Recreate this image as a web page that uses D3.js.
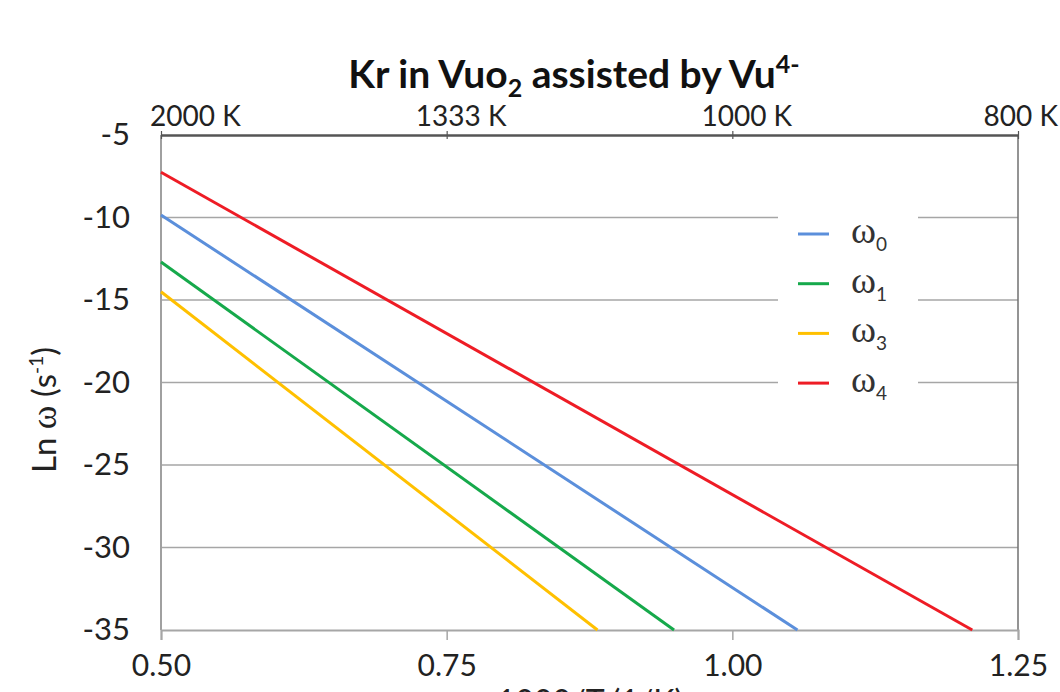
<!DOCTYPE html>
<html>
<head>
<meta charset="utf-8">
<script src="https://cdn.jsdelivr.net/npm/d3@7"></script>
<style>
html,body{margin:0;padding:0;background:#fff;}
svg{display:block;}
</style>
</head>
<body>
<svg id="chart" width="1060" height="692"></svg>
<script>
// ---- data ----
const seriesKeys = ["ω0", "ω1", "ω3", "ω4"];
const seriesSubs = ["0", "1", "3", "4"];
const seriesColors = ["#5b8fdb", "#16a94b", "#ffc000", "#ee1c25"];
const xStart = [0.5, 0.5, 0.5, 0.5];
const yStart = [-9.85, -12.7, -14.5, -7.26];
const xEnd = [1.057, 0.949, 0.882, 1.21];
const yEnd = [-35, -35, -35, -35];
const xTicks = [0.50, 0.75, 1.00, 1.25];
const yTicks = [-5, -10, -15, -20, -25, -30, -35];
const topTicks = [0.50, 0.75, 1.00, 1.25];
const topLabels = ["2000 K", "1333 K", "1000 K", "800 K"];

// ---- layout ----
const W = 1060, H = 692;
const L = 161, R = 1018, T = 135, B = 630;
const font = "Lato, 'Open Sans', sans-serif";
const svg = d3.select("#chart");
svg.append("rect").attr("width", W).attr("height", H).attr("fill", "#fff");

const x = d3.scaleLinear().domain([0.5, 1.25]).range([L, R]);
const y = d3.scaleLinear().domain([-35, -5]).range([B, T]);

// gridlines
svg.append("g").selectAll("line").data(yTicks.filter(v => v > -35 && v < -5)).join("line")
  .attr("x1", L).attr("x2", R).attr("y1", d => y(d)).attr("y2", d => y(d))
  .attr("stroke", "#a6a6a6").attr("stroke-width", 1.5);

// left & right borders
svg.append("line").attr("x1", L).attr("x2", L).attr("y1", T).attr("y2", B)
  .attr("stroke", "#a0a0a0").attr("stroke-width", 2);
svg.append("line").attr("x1", R).attr("x2", R).attr("y1", T).attr("y2", B)
  .attr("stroke", "#707070").attr("stroke-width", 1.5);

// bottom axis
const xAxis = d3.axisBottom(x).tickValues(xTicks).tickFormat(d3.format(".2f")).tickSize(10).tickPadding(15);
const gx = svg.append("g").attr("transform", `translate(0,${B})`).call(xAxis);
gx.select(".domain").attr("stroke", "#a6a6a6").attr("stroke-width", 2);
gx.selectAll(".tick line").attr("stroke", "#a6a6a6").attr("stroke-width", 1.5);
gx.selectAll(".tick text").attr("font-family", font).attr("font-size", 30).attr("fill", "#222");

// left axis (labels only)
const yAxis = d3.axisLeft(y).tickValues(yTicks).tickFormat(d => String(d)).tickSize(0).tickPadding(31);
const gy = svg.append("g").attr("transform", `translate(${L},0)`).call(yAxis);
gy.select(".domain").remove();
gy.selectAll(".tick text").attr("font-family", font).attr("font-size", 31).attr("fill", "#222");

// top axis
const topAxis = d3.axisTop(x).tickValues(topTicks).tickFormat((d, i) => topLabels[i]).tickSizeInner(4).tickSizeOuter(0).tickPadding(5);
const gt = svg.append("g").attr("transform", `translate(0,${T})`).call(topAxis);
gt.select(".domain").attr("stroke", "#555").attr("stroke-width", 2.5);
gt.selectAll(".tick line").attr("stroke", "#555").attr("stroke-width", 1.2).attr("y2", 4).attr("y1", -4);
gt.selectAll(".tick text").attr("font-family", font).attr("font-size", 28).attr("fill", "#222");
// shift labels slightly right, clamped to stay within the view
gt.selectAll(".tick text").each(function () {
  const t = d3.select(this);
  const g = d3.select(this.parentNode);
  const tx = +g.attr("transform").match(/translate\(([-\d.]+)/)[1];
  const w = this.getComputedTextLength();
  let cx = tx + 14;
  cx = Math.max(cx, 150 + w / 2);
  cx = Math.min(cx, 1058 - w / 2);
  t.attr("x", cx - tx);
});

// legend background
const lg = svg.append("g");
lg.append("rect").attr("x", 778).attr("y", 205).attr("width", 140).attr("height", 205).attr("fill", "#fff");

// series lines
const line = d3.line().x(d => x(d[0])).y(d => y(d[1]));
svg.append("g").selectAll("path").data(seriesKeys.map((k, i) => ({
  key: k, color: seriesColors[i],
  pts: [[xStart[i], yStart[i]], [xEnd[i], yEnd[i]]]
}))).join("path")
  .attr("d", d => line(d.pts))
  .attr("fill", "none").attr("stroke", d => d.color).attr("stroke-width", 3);

// legend entries
seriesKeys.forEach((k, i) => {
  const yy = 234 + i * 49.7;
  lg.append("line").attr("x1", 798).attr("x2", 829).attr("y1", yy).attr("y2", yy)
    .attr("stroke", seriesColors[i]).attr("stroke-width", 3);
  const t = lg.append("text").attr("x", 851).attr("y", yy + 9)
    .attr("font-family", "'Liberation Serif', 'DejaVu Serif', serif").attr("font-size", 38).attr("fill", "#333");
  t.append("tspan").text("ω");
  t.append("tspan").attr("font-family", font).attr("font-size", 19).attr("dy", 8).text(seriesSubs[i]);
});

// title
const title = svg.append("text").attr("x", 574).attr("y", 88).attr("text-anchor", "middle")
  .attr("font-family", font).attr("font-weight", "bold").attr("font-size", 39).attr("fill", "#111");
title.append("tspan").text("Kr in Vuo");
title.append("tspan").attr("font-size", 25).attr("dy", 9).text("2");
title.append("tspan").attr("dy", -9).text(" assisted by Vu");
title.append("tspan").attr("font-size", 25).attr("dy", -15).text("4-");

// y-axis title
const yt = svg.append("text").attr("transform", "translate(56,410) rotate(-90)").attr("text-anchor", "middle")
  .attr("font-family", font).attr("font-size", 33).attr("fill", "#222");
yt.append("tspan").text("Ln ");
yt.append("tspan").attr("font-family", "'Liberation Serif', serif").attr("font-size", 36).text("ω");
yt.append("tspan").text(" (s");
yt.append("tspan").attr("font-size", 19).attr("dy", -13).text("-1");
yt.append("tspan").attr("dy", 13).text(")");

// x-axis title (mostly cut off at bottom edge, as in the reference)
svg.append("text").attr("x", 590).attr("y", 713).attr("text-anchor", "middle")
  .attr("font-family", font).attr("font-size", 32).attr("fill", "#222").text("1000/T (1/K)");
</script>
</body>
</html>
